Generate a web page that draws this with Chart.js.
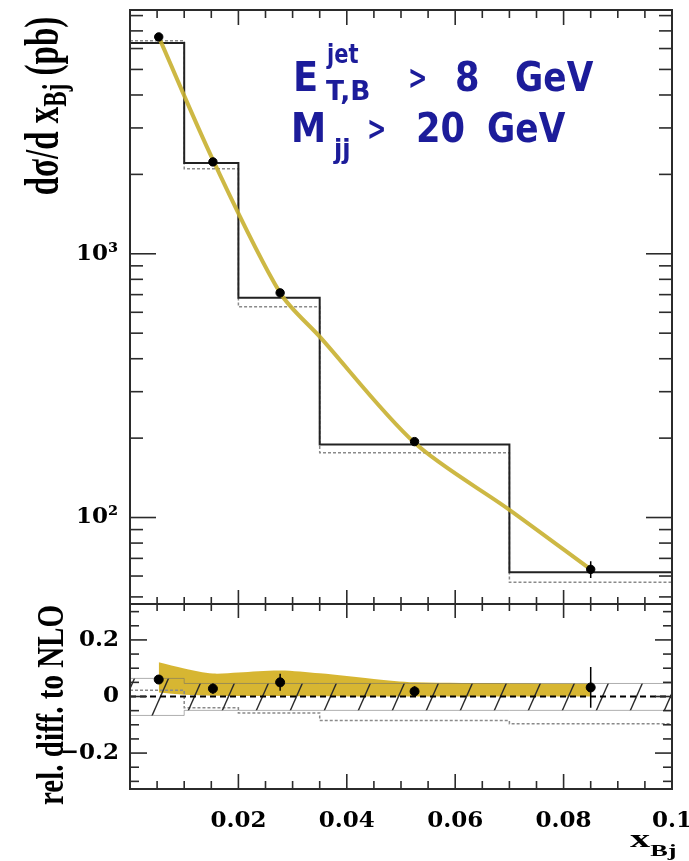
<!DOCTYPE html>
<html lang="en">
<head>
  <meta charset="UTF-8" />
  <title>dσ/dx_Bj – dijet cross section vs NLO</title>
  <script src="https://cdn.jsdelivr.net/npm/chart.js@4.4.1/dist/chart.umd.min.js"></script>
  <style>
    body { margin: 0; background: #fff; }
    #wrap { position: relative; width: 689px; height: 861px; background: #fff; }
    #wrap canvas { position: absolute; left: 0; }
    #top { top: 0; }
    #ratio { top: 598px; }
  </style>
</head>
<body>
  <div id="wrap">
    <canvas id="top" width="689" height="610"></canvas>
    <canvas id="ratio" width="689" height="263"></canvas>
  </div>
  <script>
    // ---- data ----
    const binEdges   = [0, 0.01, 0.02, 0.035, 0.07, 0.1];
    const histSolid  = [6300, 2210, 681, 189, 62];      // NLO x hadr. (solid)
    const histDotted = [6420, 2100, 630, 176, 56.8];    // alternative model (dotted)

    const dataX      = [0.0053, 0.0153, 0.0277, 0.0525, 0.085];
    const dataY      = [6640, 2230, 711, 194, 63.6];
    const dataErr    = [70, 40, 20, 3.5, 4.6];

    const curveX     = [0.0053, 0.0153, 0.0277, 0.035, 0.0525, 0.07, 0.085];
    const curveY     = [6640, 2270, 711, 485, 192, 107, 63.6];

    // ratio panel
    const relX       = dataX;
    const relY       = [0.06, 0.028, 0.05, 0.018, 0.032];
    const relErr     = [0.012, 0.018, 0.03, 0.018, 0.072];
    const bandX      = [0.0053, 0.01, 0.0153, 0.02, 0.0277, 0.035, 0.045, 0.0525, 0.07, 0.085];
    const bandHi     = [0.121, 0.099, 0.081, 0.085, 0.092, 0.082, 0.062, 0.05, 0.047, 0.046];
    const bandLo     = [0.014, 0.006, 0.003, 0.002, 0.002, 0.001, 0.0, 0.0, 0.0, 0.0];
    const sysHi      = [0.064, 0.046, 0.046, 0.046, 0.046];
    const sysLo      = [-0.067, -0.049, -0.049, -0.049, -0.049];
    const relDotted  = [0.022, -0.04, -0.058, -0.085, -0.096];

    // ---- axis ticks ----
    const xLabels    = [0.02, 0.04, 0.06, 0.08, 0.1];
    const xMajor     = [0.02, 0.04, 0.06, 0.08];
    const xMinor     = [0.005, 0.01, 0.015, 0.025, 0.03, 0.035, 0.045, 0.05, 0.055, 0.065, 0.07, 0.075, 0.085, 0.09, 0.095];
    const yLogMajor  = [100, 1000];
    const yLogMinor  = [50, 60, 70, 80, 90, 200, 300, 400, 500, 600, 700, 800, 900, 2000, 3000, 4000, 5000, 6000, 7000, 8000];
    const yRelMajor  = [-0.2, 0, 0.2];
    const yRelMinor  = [-0.3, -0.25, -0.15, -0.1, -0.05, 0.05, 0.1, 0.15, 0.25, 0.3];

    const GOLD_LINE = 'rgba(200, 176, 48, 0.9)';
    const GOLD_FILL = 'rgba(210, 172, 22, 0.88)';
    const BLUE = '#1c1c9a';
    const tickFont = { family: 'DejaVu Serif', weight: 'bold', size: 23 };

    const steps = (edges, vals) => edges.map((e, i) => ({ x: e, y: vals[Math.min(i, vals.length - 1)] }));
    const pairs = (xs, ys) => xs.map((x, i) => ({ x, y: ys[i] }));
    function errorSegments(xs, ys, errs) {
      const pts = [];
      xs.forEach((x, i) => { pts.push({ x, y: ys[i] - errs[i] }, { x, y: ys[i] + errs[i] }, { x, y: null }); });
      return pts;
    }
    // fixed axis box, no extra label padding so both panels line up
    const fixBox = (w, h) => s => {
      if (w !== null) s.width = w;
      if (h !== null) s.height = h;
      s.paddingTop = s.paddingBottom = s.paddingLeft = s.paddingRight = 0;
    };

    // ROOT-like frame with inward ticks on every side
    const rootFrame = {
      id: 'rootFrame',
      afterDraw(chart, args, o) {
        const { ctx, chartArea: a, scales: { x, y } } = chart;
        ctx.save();
        ctx.strokeStyle = '#2b2b2b';
        ctx.lineWidth = 1.6;
        const seg = (x0, y0, x1, y1) => { ctx.beginPath(); ctx.moveTo(x0, y0); ctx.lineTo(x1, y1); ctx.stroke(); };
        const yTicks = (vals, len) => vals.forEach(v => {
          const p = y.getPixelForValue(v);
          seg(a.left, p, a.left + len, p);
          seg(a.right, p, a.right - len, p);
        });
        const xTicks = (vals, lenTop, lenBot) => vals.forEach(v => {
          const p = x.getPixelForValue(v);
          if (lenTop) seg(p, a.top, p, a.top + lenTop);
          if (lenBot) seg(p, a.bottom, p, a.bottom - lenBot);
        });
        yTicks(o.yMajor, o.yMajorLen);
        yTicks(o.yMinor, o.yMinorLen);
        xTicks(xMajor, o.xTop[0], o.xBot[0]);
        xTicks(xMinor, o.xTop[1], o.xBot[1]);
        ctx.lineWidth = 2;
        ctx.strokeRect(a.left, a.top, a.right - a.left, a.bottom - a.top);
        ctx.restore();
      }
    };

    // text helpers: serif labels in this figure are drawn wide
    function wideText(ctx, parts, x, y, sx) {
      ctx.save();
      ctx.translate(x, y);
      ctx.scale(sx, 1);
      let cx = 0;
      parts.forEach(p => { ctx.font = p.font; ctx.fillText(p.t, cx, p.dy || 0); cx += ctx.measureText(p.t).width; });
      ctx.restore();
    }
    function rotText(ctx, parts, x, yc, sy) {
      ctx.save();
      ctx.translate(x, yc);
      ctx.rotate(-Math.PI / 2);
      ctx.scale(1, sy);
      let total = 0;
      parts.forEach(p => { ctx.font = p.font; total += ctx.measureText(p.t).width; });
      let cx = -total / 2;
      parts.forEach(p => { ctx.font = p.font; ctx.fillText(p.t, cx, p.dy || 0); cx += ctx.measureText(p.t).width; });
      ctx.restore();
    }

    const topText = {
      id: 'topText',
      afterDraw(chart) {
        const ctx = chart.ctx;
        ctx.save();
        ctx.fillStyle = '#000';
        ctx.textBaseline = 'alphabetic';
        const f = 'bold 33px "Liberation Serif"', fs = 'bold 23px "Liberation Serif"';
        rotText(ctx, [
          { t: 'dσ/d x', font: f },
          { t: 'Bj', font: fs, dy: 5 },
          { t: ' (pb)', font: f }
        ], 58, 106, 1.5);

        // cut labels
        ctx.fillStyle = BLUE;
        const big = 'bold 41px "DejaVu Sans"', sm = 'bold 27px "DejaVu Sans"', gt = 'bold 33px "DejaVu Sans"';
        wideText(ctx, [{ t: 'E', font: big }], 293, 91, 0.9);
        wideText(ctx, [{ t: 'jet', font: sm }], 327, 63, 0.78);
        wideText(ctx, [{ t: 'T,B', font: sm }], 326, 100, 0.98);
        wideText(ctx, [{ t: '>', font: gt }], 408, 89, 0.7);
        wideText(ctx, [{ t: '8', font: big }], 455, 91, 0.86);
        wideText(ctx, [{ t: 'GeV', font: big }], 515, 91, 0.84);
        wideText(ctx, [{ t: 'M', font: big }], 291, 142, 0.86);
        wideText(ctx, [{ t: 'jj', font: sm }], 334, 158, 0.9);
        wideText(ctx, [{ t: '>', font: gt }], 367, 140, 0.7);
        wideText(ctx, [{ t: '20', font: big }], 416, 142, 0.86);
        wideText(ctx, [{ t: 'GeV', font: big }], 487, 142, 0.84);
        ctx.restore();
      }
    };

    const ratioText = {
      id: 'ratioText',
      afterDraw(chart) {
        const ctx = chart.ctx;
        ctx.save();
        ctx.fillStyle = '#000';
        rotText(ctx, [{ t: 'rel. diff. to NLO', font: 'bold 29px "Liberation Serif"' }], 63, 705 - 598, 1.3);
        wideText(ctx, [
          { t: 'x', font: 'bold 26px "Liberation Serif"' },
          { t: 'Bj', font: 'bold 17px "Liberation Serif"', dy: 9 }
        ], 630, 847 - 598, 1.55);
        ctx.restore();
      }
    };

    // ---- upper panel ----
    new Chart(document.getElementById('top'), {
      type: 'line',
      data: {
        datasets: [
          { data: pairs(dataX, dataY), showLine: false, pointRadius: 4.2, pointBackgroundColor: '#000', pointBorderColor: '#000', order: 0 },
          { data: errorSegments(dataX, dataY, dataErr), borderColor: '#000', borderWidth: 1.5, pointRadius: 0, order: 1 },
          { data: pairs(curveX, curveY), borderColor: GOLD_LINE, borderWidth: 4, pointRadius: 0, tension: 0.3, order: 2 },
          { data: steps(binEdges, histSolid), stepped: 'before', borderColor: '#222', borderWidth: 2, pointRadius: 0, order: 3 },
          { data: steps(binEdges, histDotted), stepped: 'before', borderColor: '#8a8a8a', borderWidth: 1.5, borderDash: [3, 2], pointRadius: 0, order: 4 }
        ]
      },
      options: {
        responsive: false,
        animation: false,
        events: [],
        layout: { padding: { left: 0, right: 17, top: 10, bottom: 6 } },
        plugins: {
          legend: { display: false },
          tooltip: { enabled: false },
          rootFrame: { yMajor: yLogMajor, yMinor: yLogMinor, yMajorLen: 26, yMinorLen: 13, xTop: [15, 8], xBot: [14, 7] }
        },
        scales: {
          x: { type: 'linear', min: 0, max: 0.1, display: false },
          y: {
            type: 'logarithmic', min: 47, max: 8400,
            afterFit: fixBox(130, null),
            afterBuildTicks: s => { s.ticks = yLogMajor.map(v => ({ value: v })); },
            grid: { display: false, drawTicks: false },
            border: { display: false },
            ticks: {
              autoSkip: false, padding: 12, color: '#000', font: tickFont,
              callback: v => (Math.abs(v - 1000) < 1e-6 ? '10³' : '10²')
            }
          }
        }
      },
      plugins: [rootFrame, topText]
    });

    // ---- ratio panel ----
    const ratioCanvas = document.getElementById('ratio');
    const hatch = (() => {
      const c = document.createElement('canvas');
      c.width = 34; c.height = 77;
      const g = c.getContext('2d');
      g.strokeStyle = '#2a2a2a';
      g.lineWidth = 1.4;
      [[0, 77, 34, 0], [-34, 77, 0, 0], [34, 77, 68, 0]].forEach(([a, b, cc, d]) => {
        g.beginPath(); g.moveTo(a, b); g.lineTo(cc, d); g.stroke();
      });
      return ratioCanvas.getContext('2d').createPattern(c, 'repeat');
    })();

    new Chart(ratioCanvas, {
      type: 'line',
      data: {
        datasets: [
          { data: pairs(relX, relY), showLine: false, pointRadius: 4.5, pointBackgroundColor: '#000', pointBorderColor: '#000', order: 0 },
          { data: errorSegments(relX, relY, relErr), borderColor: '#000', borderWidth: 1.5, pointRadius: 0, order: 1 },
          { data: [{ x: 0, y: 0 }, { x: 0.1, y: 0 }], borderColor: '#000', borderWidth: 2, borderDash: [6, 4], pointRadius: 0, order: 2 },
          { data: steps(binEdges, sysHi), stepped: 'before', borderColor: 'rgba(110,110,110,0.55)', borderWidth: 1, pointRadius: 0, fill: '+1', backgroundColor: hatch, order: 3 },
          { data: steps(binEdges, sysLo), stepped: 'before', borderColor: 'rgba(110,110,110,0.55)', borderWidth: 1, pointRadius: 0, order: 3 },
          { data: steps(binEdges, relDotted), stepped: 'before', borderColor: '#8a8a8a', borderWidth: 1.5, borderDash: [3, 2], pointRadius: 0, order: 4 },
          { data: pairs(bandX, bandHi), borderWidth: 0, pointRadius: 0, fill: '+1', backgroundColor: GOLD_FILL, tension: 0.3, order: 5 },
          { data: pairs(bandX, bandLo), borderWidth: 0, pointRadius: 0, tension: 0.3, order: 5 }
        ]
      },
      options: {
        responsive: false,
        animation: false,
        events: [],
        layout: { padding: { left: 0, right: 17, top: 6, bottom: 0 } },
        plugins: {
          legend: { display: false },
          tooltip: { enabled: false },
          filler: { propagate: false },
          rootFrame: { yMajor: yRelMajor, yMinor: yRelMinor, yMajorLen: 17, yMinorLen: 9, xTop: [14, 7], xBot: [15, 8] }
        },
        scales: {
          x: {
            type: 'linear', min: 0, max: 0.1,
            afterFit: fixBox(null, 72),
            afterBuildTicks: s => { s.ticks = xLabels.map(v => ({ value: v })); },
            grid: { display: false, drawTicks: false },
            border: { display: false },
            ticks: {
              autoSkip: false, maxRotation: 0, padding: 18, color: '#000', font: tickFont,
              callback: v => String(+v.toFixed(2))
            }
          },
          y: {
            type: 'linear', min: -0.327, max: 0.327,
            afterFit: fixBox(130, null),
            afterBuildTicks: s => { s.ticks = yRelMajor.map(v => ({ value: v })); },
            grid: { display: false, drawTicks: false },
            border: { display: false },
            ticks: {
              autoSkip: false, padding: 11, color: '#000', font: tickFont,
              callback: v => (Math.abs(v) < 1e-9 ? '0' : (v < 0 ? '−' : '') + Math.abs(v).toFixed(1))
            }
          }
        }
      },
      plugins: [rootFrame, ratioText]
    });
  </script>
</body>
</html>
